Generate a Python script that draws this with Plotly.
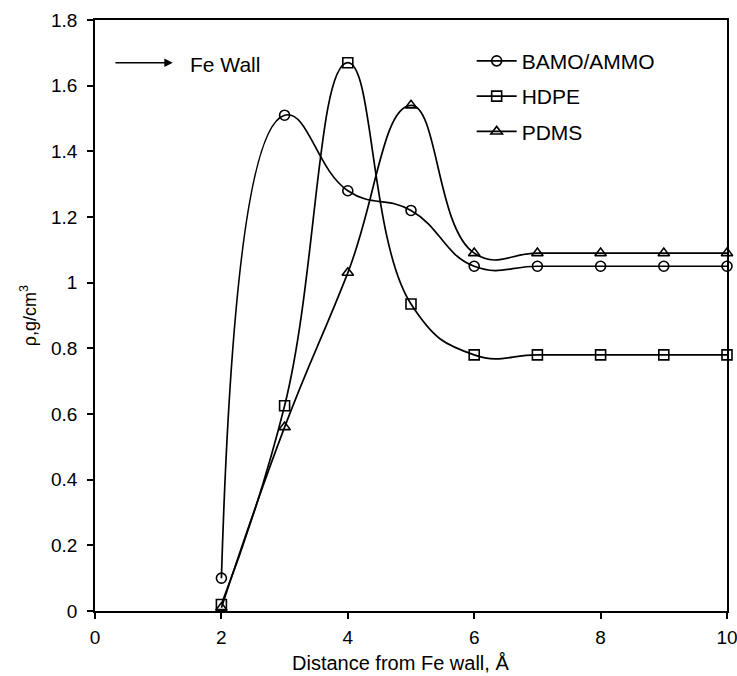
import plotly.graph_objects as go

# Distance from the Fe wall (Å)
distance = [2, 3, 4, 5, 6, 7, 8, 9, 10]

# Density profiles (g/cm3)
bamo_ammo = [0.10, 1.51, 1.28, 1.22, 1.05, 1.05, 1.05, 1.05, 1.05]
hdpe = [0.02, 0.625, 1.67, 0.935, 0.78, 0.78, 0.78, 0.78, 0.78]
pdms = [0.01, 0.56, 1.03, 1.54, 1.09, 1.09, 1.09, 1.09, 1.09]

series = [
    ("BAMO/AMMO", bamo_ammo, "circle-open"),
    ("HDPE", hdpe, "square-open"),
    ("PDMS", pdms, "triangle-up-open"),
]

x_ticks = [0, 2, 4, 6, 8, 10]
y_ticks = [0, 0.2, 0.4, 0.6, 0.8, 1, 1.2, 1.4, 1.6, 1.8]
y_tick_text = ["0", "0.2", "0.4", "0.6", "0.8", "1", "1.2", "1.4", "1.6", "1.8"]

FONT = "Liberation Sans, Arial, Helvetica, sans-serif"

fig = go.Figure()
for name, values, symbol in series:
    fig.add_trace(go.Scatter(
        x=distance, y=values, name=name, legendgroup=name,
        mode="lines+markers",
        line=dict(color="black", width=1.7, shape="spline", smoothing=1.3),
        marker=dict(symbol=symbol, size=10, color="black",
                    line=dict(color="black", width=1.6)),
        cliponaxis=False,
    ))

# Arrow labelled "Fe Wall"
fig.add_annotation(x=1.23, y=1.67, ax=0.3, ay=1.67,
                   xref="x", yref="y", axref="x", ayref="y",
                   text="", showarrow=True, arrowhead=2, arrowsize=1.2,
                   arrowwidth=1.4, arrowcolor="black")
fig.add_annotation(x=1.47, y=1.665, xref="x", yref="y",
                   text="Fe Wall", showarrow=False, xanchor="left",
                   font=dict(family=FONT, size=21, color="black"))

# Axis titles
fig.add_annotation(x=0.484, y=-0.11, xref="paper", yref="paper",
                   text="Distance from Fe wall, Å", showarrow=False,
                   xanchor="center", yanchor="bottom",
                   font=dict(family=FONT, size=20, color="black"))
fig.add_annotation(x=-0.105, y=0.5, xref="paper", yref="paper",
                   text="ρ,g/cm<sup>3</sup>", showarrow=False, textangle=-90,
                   xanchor="center", yanchor="middle",
                   font=dict(family=FONT, size=18, color="black"))

axis_common = dict(
    showline=True, linecolor="black", linewidth=1.8, mirror=True,
    ticks="outside", ticklen=6, tickwidth=1.5, tickcolor="black",
    showgrid=False, zeroline=False, automargin=False,
    ticklabeloverflow="allow",
    tickfont=dict(family=FONT, size=19, color="black"),
)

fig.update_layout(
    width=737, height=676,
    margin=dict(l=95, r=10, t=20, b=65),
    paper_bgcolor="white", plot_bgcolor="white",
    showlegend=True,
    legend=dict(x=0.596, y=0.965, xanchor="left", yanchor="top",
                font=dict(family=FONT, size=21, color="black"),
                bgcolor="rgba(0,0,0,0)", tracegroupgap=5,
                itemwidth=40),
    xaxis=dict(range=[0, 10], tickvals=x_ticks, ticklabelstandoff=2,
               **axis_common),
    yaxis=dict(range=[0, 1.8], tickvals=y_ticks, ticktext=y_tick_text,
               ticklabelstandoff=6, **axis_common),
)

fig.write_html("out.html")
